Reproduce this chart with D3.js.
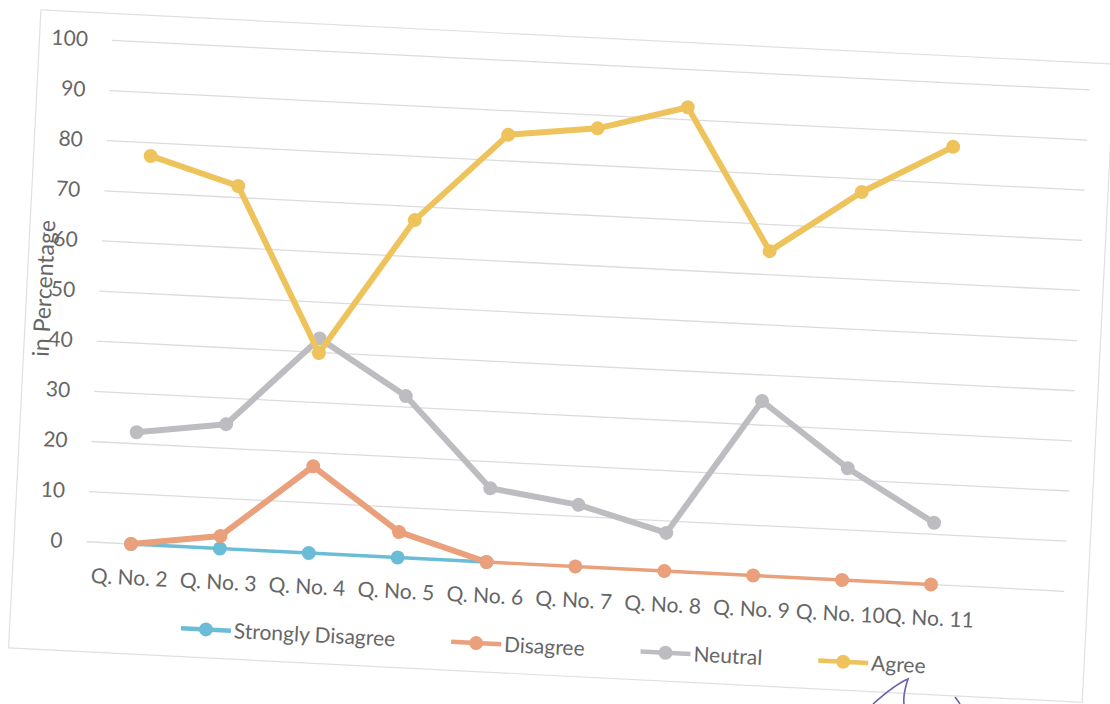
<!DOCTYPE html>
<html>
<head>
<meta charset="utf-8">
<script src="https://cdn.jsdelivr.net/npm/d3@7"></script>
<style>
  html, body { margin: 0; padding: 0; background: #fff; }
  svg { display: block; font-family: Lato, "Open Sans", sans-serif; }
</style>
</head>
<body>
<svg id="chart" width="1110" height="704"></svg>
<script>
const categories = ["Q. No. 2", "Q. No. 3", "Q. No. 4", "Q. No. 5", "Q. No. 6",
  "Q. No. 7", "Q. No. 8", "Q. No. 9", "Q. No. 10", "Q. No. 11"];
const yTicks = [0, 10, 20, 30, 40, 50, 60, 70, 80, 90, 100];

const stronglyDisagree = [0, 0, 0, 0, 0, null, null, null, null, null];
const disagree = [0, 2.5, 17.3, 5.1, 0, 0, 0, 0, 0, 0];
const neutral = [22.3, 24.8, 42.8, 32.2, 14.7, 12.3, 7.6, 34.8, 22.3, 12.3];
const agree = [77.4, 72.3, 39.9, 67.3, 85.2, 87.4, 92.5, 64.7, 77.4, 87.3];

const series = [
  { name: "Strongly Disagree", values: stronglyDisagree, color: "#6bbdd7" },
  { name: "Disagree", values: disagree, color: "#e9a07b" },
  { name: "Neutral", values: neutral, color: "#bdbdc1" },
  { name: "Agree", values: agree, color: "#eec35c" },
];

const svg = d3.select("#chart");

// the printed page was scanned a little crooked, so the whole chart is tilted
const g = svg.append("g").attr("transform", "translate(131,544) rotate(2.9)");

// chart border
g.append("rect")
  .attr("x", -117).attr("y", -529)
  .attr("width", 1075).attr("height", 639)
  .attr("fill", "none").attr("stroke", "#e0e0e0").attr("stroke-width", 1.2);

// one empty slot stays on the right of the plot, like in the source
const x = d3.scaleBand().domain([...categories, ""]).range([-44.5, 934.5]);
const cx = (c) => x(c) + x.bandwidth() / 2;
const y = d3.scaleLinear().domain([0, 100]).range([0, -502]);

g.append("g")
  .selectAll("line")
  .data(yTicks)
  .join("line")
  .attr("x1", x.range()[0]).attr("x2", x.range()[1])
  .attr("y1", (d) => y(d)).attr("y2", (d) => y(d))
  .attr("stroke", "#dcdcdc").attr("stroke-width", 1.3);

const yAxis = g.append("g")
  .attr("transform", `translate(${x.range()[0]},0)`)
  .call(d3.axisLeft(y).tickValues(yTicks).tickSize(0).tickPadding(24));
yAxis.select(".domain").remove();
yAxis.selectAll("text")
  .attr("font-size", 21).attr("fill", "#666").attr("font-family", "Lato");

const xAxis = g.append("g")
  .call(d3.axisBottom(x).tickSize(0).tickPadding(26));
xAxis.select(".domain").remove();
xAxis.selectAll("text")
  .attr("font-size", 21).attr("fill", "#666").attr("font-family", "Lato");

g.append("text")
  .attr("transform", `translate(-100,${y(50)}) rotate(-90)`)
  .attr("text-anchor", "middle").attr("dy", "0.35em")
  .attr("font-size", 23).attr("fill", "#666")
  .text("in Percentage");

// lines: flat segments along zero print thinner than the others
series.forEach((s) => {
  const pts = s.values
    .map((v, i) => ({ c: categories[i], v }))
    .filter((d) => d.v !== null);
  const sg = g.append("g");
  sg.selectAll("line")
    .data(d3.pairs(pts))
    .join("line")
    .attr("x1", (d) => cx(d[0].c)).attr("y1", (d) => y(d[0].v))
    .attr("x2", (d) => cx(d[1].c)).attr("y2", (d) => y(d[1].v))
    .attr("stroke", s.color)
    .attr("stroke-width", (d) => (d[0].v === 0 && d[1].v === 0 ? 3.4 : 6))
    .attr("stroke-linecap", "round");
  sg.selectAll("circle")
    .data(pts)
    .join("circle")
    .attr("cx", (d) => cx(d.c)).attr("cy", (d) => y(d.v))
    .attr("r", 7).attr("fill", s.color);
});

// legend, centred under the chart
const legend = g.append("g").attr("transform", "translate(0,81.5)");
let lx = 0;
const items = series.map((s) => {
  const it = legend.append("g");
  it.append("line").attr("x1", 0).attr("x2", 50)
    .attr("stroke", s.color).attr("stroke-width", 4.5);
  it.append("circle").attr("cx", 25).attr("r", 7).attr("fill", s.color);
  const t = it.append("text").attr("x", 53).attr("dy", "0.35em")
    .attr("font-size", 21).attr("fill", "#666").text(s.name);
  const w = 53 + t.node().getComputedTextLength();
  const pos = lx;
  lx += w + 56;
  return { it, pos };
});
const total = lx - 56;
items.forEach(({ it, pos }) =>
  it.attr("transform", `translate(${427 - total / 2 + pos},0)`));

// pen mark on the paper
svg.append("path")
  .attr("d", "M873,704 C882,696 896,684 908,679 C905,688 903,696 904,704 M955,697 C957,700 959,702 960,704")
  .attr("fill", "none").attr("stroke", "#6b5fae").attr("stroke-width", 1.6);
</script>
</body>
</html>
